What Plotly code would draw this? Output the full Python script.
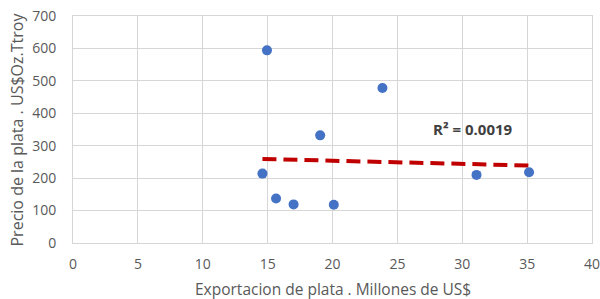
import plotly.graph_objects as go

export_x = [14.6, 14.95, 15.65, 17.0, 19.05, 20.1, 23.85, 31.1, 35.15]
price_y = [214, 594, 137, 119, 332, 118, 478, 210, 218]

trend_x = [14.6, 35.15]
trend_y = [259, 239]

r2_text = "R² = 0.0019"
r2_pos = (30.8, 352)

x_ticks = [0, 5, 10, 15, 20, 25, 30, 35, 40]
y_ticks = [0, 100, 200, 300, 400, 500, 600, 700]

x_title = "Exportacion de plata . Millones de US$"
y_title = "Precio de la plata . US$Oz.Ttroy"

font_family = "Open Sans, Liberation Sans, sans-serif"
text_col = "#595959"
grid_col = "#D6D6D6"

fig = go.Figure()
fig.add_trace(go.Scatter(
    x=trend_x, y=trend_y, mode="lines",
    line=dict(color="#C00000", width=4, dash="14px,7px"),
    hoverinfo="skip", showlegend=False))
fig.add_trace(go.Scatter(
    x=export_x, y=price_y, mode="markers",
    marker=dict(color="#4472C4", size=10, line=dict(width=0)),
    showlegend=False))

fig.add_annotation(x=r2_pos[0], y=r2_pos[1], text="<b>" + r2_text + "</b>",
                   showarrow=False, font=dict(family=font_family, size=15, color="#404040"))

fig.add_annotation(xref="paper", yref="paper", x=0.5, y=0, yshift=-46,
                   text=x_title, showarrow=False, xanchor="center", yanchor="middle",
                   font=dict(family=font_family, size=15.5, color=text_col))
fig.add_annotation(xref="paper", yref="paper", x=0, y=0.5, xshift=-57,
                   text=y_title, showarrow=False, textangle=-90,
                   xanchor="center", yanchor="middle",
                   font=dict(family=font_family, size=16, color=text_col))

fig.update_layout(
    width=600, height=299,
    margin=dict(l=73, r=8, t=16, b=56, autoexpand=False),
    paper_bgcolor="white", plot_bgcolor="white",
    font=dict(family=font_family, size=14, color=text_col),
    xaxis=dict(range=[0, 40], tickvals=x_ticks, showgrid=True, gridcolor=grid_col,
               gridwidth=1, zeroline=False, showline=True, linecolor=grid_col,
               mirror=True, ticks="outside", ticklen=8, tickcolor="rgba(0,0,0,0)",
               ticklabeloverflow="allow",
               tickfont=dict(size=14, color=text_col), automargin=False),
    yaxis=dict(range=[0, 700], tickvals=y_ticks, showgrid=True, gridcolor=grid_col,
               gridwidth=1, zeroline=False, showline=True, linecolor=grid_col,
               mirror=True, ticks="outside", ticklen=13, tickcolor="rgba(0,0,0,0)",
               ticklabeloverflow="allow",
               tickfont=dict(size=14, color=text_col), automargin=False),
)

fig.write_html("out.html", config={"displayModeBar": False},
               post_script="document.body.style.margin='0';")
